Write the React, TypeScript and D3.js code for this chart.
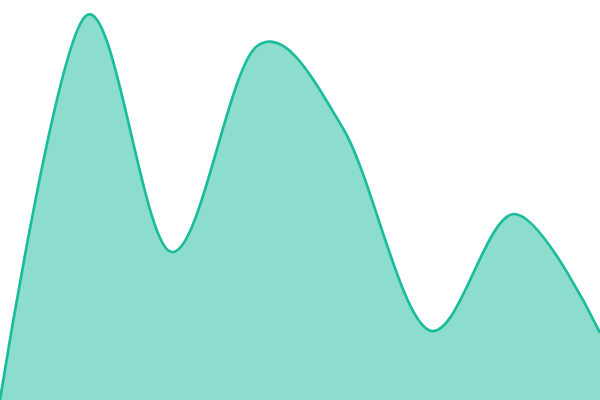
import React from "react";
import * as d3 from "d3";

const indices = [0, 1, 2, 3, 4, 5, 6, 7];
const values = [0, 96, 37, 88.5, 68, 17.5, 46.5, 16.8];

const W = 600;
const H = 400;

export default function App() {
  const x = d3.scaleLinear().domain([0, indices.length - 1]).range([0, W]);
  const y = d3.scaleLinear().domain([0, 100]).range([H, 0]);
  const data = indices.map((i) => ({ i, v: values[i] }));
  const area = d3
    .area<{ i: number; v: number }>()
    .x((d) => x(d.i))
    .y0(H)
    .y1((d) => y(d.v))
    .curve(d3.curveCardinal);
  const line = d3
    .line<{ i: number; v: number }>()
    .x((d) => x(d.i))
    .y((d) => y(d.v))
    .curve(d3.curveCardinal);
  return (
    <svg
      width={W}
      height={H}
      style={{ position: "absolute", left: 0, top: 0, display: "block" }}
    >
      <path d={area(data) || ""} fill="#1abc9c" fillOpacity={0.5} />
      <path d={line(data) || ""} fill="none" stroke="#1abc9c" strokeWidth={2.7} />
    </svg>
  );
}
